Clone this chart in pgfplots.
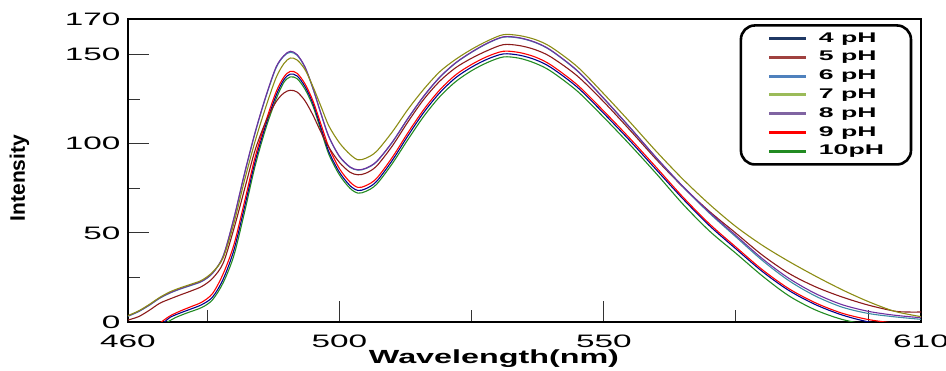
\documentclass[border=0pt]{standalone}
\usepackage{fontspec}
\setmainfont{Liberation Sans}
\newfontfamily\tickf[FakeStretch=1.85]{Liberation Sans}
\newfontfamily\labf[FakeStretch=1.7]{Liberation Sans}
\newfontfamily\legf[FakeStretch=1.9]{Liberation Sans}
\newfontfamily\ylabf{Liberation Sans}
\usepackage{pgfplots}
\pgfplotsset{compat=1.18}
\definecolor{cNavy}{RGB}{0,0,140}
\definecolor{cBrown}{RGB}{139,26,26}
\definecolor{cTeal}{RGB}{60,140,165}
\definecolor{cOlive}{RGB}{140,140,20}
\definecolor{cPurple}{RGB}{112,48,160}
\definecolor{cRed}{RGB}{255,0,0}
\definecolor{cGreen}{RGB}{34,139,34}
\definecolor{lNavy}{RGB}{31,56,100}
\definecolor{lBrown}{RGB}{160,65,63}
\definecolor{lBlue}{RGB}{79,129,189}
\definecolor{lOlive}{RGB}{155,187,89}
\definecolor{lPurple}{RGB}{128,100,162}
\definecolor{lRed}{RGB}{255,0,0}
\definecolor{lGreen}{RGB}{34,139,34}
\begin{document}
\begin{tikzpicture}
\begin{axis}[
  scale only axis, width=793pt, height=303pt,
  xmin=460, xmax=610, ymin=0, ymax=170,
  xtick={460,500,550,610}, xticklabels={460,500,550,610},
  minor xtick={475,525,575,600},
  ytick={0,50,100,150,170}, yticklabels={0,50,100,150,170},
  minor ytick={25,75,125},
  tick align=inside, xtick pos=lower, ytick pos=left,
  major tick length=21pt, minor tick length=12pt,
  every tick/.style={black!80, line width=1pt},
  axis line style={line width=1.2pt},
  /pgf/number format/assume math mode=true,
  ticklabel style={font={\tickf\fontsize{18}{20}\selectfont}},
  xticklabel style={yshift=-9pt},
  yticklabel style={xshift=-4pt},
  xlabel={Wavelength(nm)},
  xlabel style={font={\labf\bfseries\fontsize{19}{21}\selectfont}, at={(axis description cs:0.4615,-0.122)}, anchor=center},
  ylabel={Intensity},
  ylabel style={font={\ylabf\bfseries\fontsize{21}{23}\selectfont}, at={(axis description cs:-0.137,0.475)}, anchor=center},
  legend image code/.code={\draw[#1] (0pt,0pt) -- (37pt,0pt);},
  legend style={at={(rel axis cs:0.989,0.983)}, anchor=north east,
    draw=black, line width=2.6pt, rounded corners=14pt,
    inner xsep=27pt, inner ysep=6.6pt, row sep=5.8pt, column sep=11pt,
    font={\legf\bfseries\fontsize{14}{16}\selectfont},
    nodes={inner sep=0pt, text height=10pt, text depth=3pt}},
  legend cell align=left,
  every axis plot/.append style={line width=1.1pt, smooth, tension=0.5},
]
\coordinate (bl) at (rel axis cs:0,0);
\coordinate (tr) at (rel axis cs:1,1);
% 10 pH
\addplot[cGreen, forget plot] coordinates {(466,-3)(467.5,0)(469,2.5)(471,4.9)(474,8.2)(476,12.5)(478,22)(480,37)(482,61)(484,87)(486,108)(488,125)(489.5,134.5)(490.7,137.5)(492,136.5)(493.5,130.5)(495,121)(496.5,107.5)(498,94)(500,82.5)(502,75)(503.5,72.3)(505,73.3)(507,77.2)(510,88.9)(513,102.6)(516,115.6)(519,126.5)(522,134.9)(525,141)(528,145.6)(531,148.7)(534,148)(537,145.2)(540,140.7)(545,129.5)(550,114.8)(555,99.3)(560,83)(565,66)(570,51)(575,38.5)(580,25.8)(585,14.7)(590,6.8)(595,1.5)(600,-1.6)};
% 4 pH
\addplot[cNavy, forget plot] coordinates {(465.5,-3)(466.9,0)(468,2.7)(470,5.2)(472,7.4)(474,9.8)(476,14)(478,24)(480,40)(482,64)(484,89.5)(486,110)(488,127)(489.5,136)(490.7,139.1)(492,138)(493.5,132)(495,122.5)(496.5,109)(498,95.5)(500,84)(502,76.5)(503.5,73.8)(505,74.8)(507,78.8)(510,90.7)(513,104.7)(516,117.8)(519,128.7)(522,137.1)(525,143)(528,147.5)(531,150.4)(534,149.7)(537,147.2)(540,142.8)(545,131.7)(550,117)(555,101.5)(560,85.2)(565,69)(570,54)(575,41)(580,28.3)(585,17.7)(590,9.8)(595,4)(600,0.1)(605,-2)};
% 9 pH
\addplot[cRed, forget plot] coordinates {(465,-3)(466.3,0)(468,3.5)(470,6.3)(472,8.7)(474,11.2)(476,16)(478,27)(480,43)(482,67)(484,92)(486,112)(488,129)(489.5,137.5)(490.7,140.6)(492,139.5)(493.5,133.5)(495,124)(496.5,111)(498,98)(500,86)(502,78.5)(503.5,75.5)(505,76.5)(507,80.5)(510,92.4)(513,106.4)(516,119.4)(519,130.3)(522,138.7)(525,144.5)(528,149)(531,151.9)(534,151.2)(537,148.7)(540,144.2)(545,133)(550,118.3)(555,102.8)(560,86.5)(565,70)(570,55)(575,42)(580,29.3)(585,18.7)(590,10.8)(595,5)(600,1.4)(605,-0.7)(608,-2)};
% 5 pH
\addplot[cBrown, forget plot] coordinates {(460,1.1)(462,3)(464,6.5)(466,10.5)(468,13)(470,15.3)(472,17.5)(474,20)(476,24.5)(478,33)(480,52)(482,74)(484,96)(486,112)(488,123.5)(489.5,128.5)(490.7,130)(492,129)(493.5,124)(495,116)(496.5,106.5)(498,98)(500,89.5)(502,84)(503.5,82.6)(505,83.5)(507,87.4)(510,98.8)(513,112.5)(516,125.1)(519,135.2)(522,142.7)(525,148)(528,152.3)(531,155.6)(534,155.1)(537,152.8)(540,148.7)(545,138)(550,123.5)(555,107.5)(560,91)(565,75.7)(570,62)(575,49.8)(580,37.5)(585,27.3)(590,19.8)(595,14.1)(600,9.5)(605,6.1)(607.5,5.6)(610,5.6)};
% 6 pH
\addplot[cTeal, forget plot] coordinates {(460,3.2)(462,5.8)(464,9.3)(466,13.3)(468,16.3)(470,18.6)(472,20.6)(474,22.8)(476,27.3)(478,36.8)(480,57.5)(482,82.5)(484,105.5)(486,125.5)(488,142.5)(489.5,149.2)(490.7,151.3)(492,149.6)(493.5,142.7)(495,130.8)(496.5,116.8)(498,103.8)(500,92.8)(502,86.8)(503.5,85.2)(505,86.1)(507,89.8)(510,100.8)(513,114.3)(516,126.8)(519,137.3)(522,145.3)(525,151.3)(528,156.3)(531,159.8)(534,159.3)(537,156.8)(540,152.3)(545,140.8)(550,125.3)(555,108.8)(560,91.8)(565,75.7)(570,61)(575,47.7)(580,34.5)(585,23.2)(590,14.6)(595,8.4)(600,4.8)(605,2.9)(610,1.5)};
% 8 pH
\addplot[cPurple, forget plot] coordinates {(460,3.4)(462,6)(464,9.5)(466,13.5)(468,16.5)(470,18.8)(472,20.8)(474,23)(476,27.5)(478,37)(480,58)(482,83)(484,106)(486,126)(488,143)(489.5,149.5)(490.7,151.9)(492,150)(493.5,143)(495,131)(496.5,117)(498,104)(500,93)(502,87)(503.5,85.4)(505,86.3)(507,90)(510,101)(513,114.5)(516,127)(519,137.5)(522,145.5)(525,151.5)(528,156.5)(531,160)(534,159.5)(537,157)(540,152.5)(545,141)(550,125.5)(555,109)(560,92)(565,76)(570,61.5)(575,48.5)(580,35.5)(585,24.5)(590,16)(595,9.8)(600,6)(605,3.8)(610,2.4)};
% 7 pH
\addplot[cOlive, forget plot] coordinates {(460,3.6)(462,6.2)(464,9.8)(466,13.8)(468,17)(470,19.3)(472,21.3)(474,23.5)(476,28)(478,36)(480,55)(482,79)(484,101)(486,120)(488,137)(489.5,145)(490.7,148.1)(492,147)(493.5,141.5)(495,132)(496.5,121)(498,110)(500,100.5)(502,94)(503.5,91)(505,91.9)(507,95.7)(510,106.7)(513,119.5)(516,130.8)(519,140.5)(522,147.4)(525,153)(528,157.7)(531,161.2)(534,160.7)(537,158.5)(540,154.3)(545,143.2)(550,128)(555,112)(560,95.5)(565,80)(570,66)(575,53.5)(580,43)(585,34)(590,25.8)(595,18.2)(600,11.5)(605,6)(610,3)};
\addlegendimage{lNavy, line width=3pt}\addlegendentry{4 pH}
\addlegendimage{lBrown, line width=3pt}\addlegendentry{5 pH}
\addlegendimage{lBlue, line width=3pt}\addlegendentry{6 pH}
\addlegendimage{lOlive, line width=3pt}\addlegendentry{7 pH}
\addlegendimage{lPurple, line width=3pt}\addlegendentry{8 pH}
\addlegendimage{lRed, line width=3pt}\addlegendentry{9 pH}
\addlegendimage{lGreen, line width=3pt}\addlegendentry{10pH}
\end{axis}
\pgfresetboundingbox
\path[use as bounding box] ([shift={(-128pt,-49pt)}]bl) rectangle ([shift={(25pt,19pt)}]tr);
\end{tikzpicture}
\end{document}
